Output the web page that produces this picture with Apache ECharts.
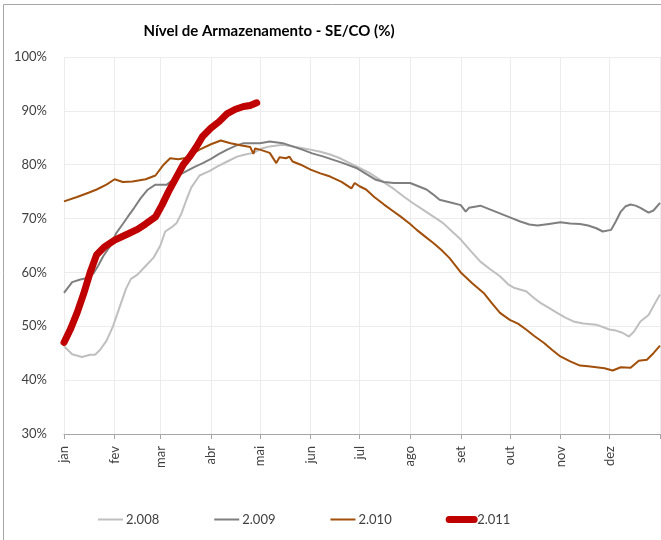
<!DOCTYPE html>
<html>
<head>
<meta charset="UTF-8">
<title>Nível de Armazenamento - SE/CO</title>
<script src="https://cdn.jsdelivr.net/npm/echarts@6/dist/echarts.min.js"></script>
<style>
  html, body { margin: 0; padding: 0; background: #fff; }
  #chart { width: 661px; height: 540px; }
</style>
</head>
<body>
<div id="chart"></div>
<script>
// meses (rótulos) e dia do ano em que cada um começa
var monthNames = ['jan', 'fev', 'mar', 'abr', 'mai', 'jun', 'jul', 'ago', 'set', 'out', 'nov', 'dez'];
var monthStarts = [0, 31, 59, 90, 120, 151, 181, 212, 243, 273, 304, 334, 365];

// nível (%) por dia do ano: [dia, valor]
var s2008 = [[0,46.3],[5,44.8],[11,44.3],[16,44.7],[19,44.7],[22,45.6],[26,47.3],[30,50],[34,53.5],[38,57],[41,58.8],[45,59.6],[50,61.2],[55,62.8],[59,65],[62,67.6],[66,68.4],[69,69.2],[72,71],[75,73.5],[78,75.8],[83,78],[89,78.8],[94,79.7],[100,80.6],[106,81.5],[111,81.9],[116,82.2],[121,83],[126,83.4],[134,83.7],[142,83.3],[151,82.8],[157,82.4],[163,81.9],[169,81.2],[175,80.3],[181,79.4],[187,78.5],[195,76.9],[202,75.5],[208,74.1],[214,72.8],[220,71.6],[226,70.4],[232,69.2],[238,67.5],[243,66.1],[249,64],[255,62],[261,60.6],[267,59.3],[272,57.8],[276,57.1],[283,56.5],[288,55.2],[292,54.3],[297,53.4],[302,52.5],[307,51.6],[312,50.9],[318,50.5],[326,50.3],[334,49.4],[338,49.2],[342,48.8],[346,48.1],[349,49],[353,50.9],[358,52.1],[362,54.3],[365,55.9]];
var s2009 = [[0,56.2],[5,58.2],[10,58.7],[15,59],[18,59.8],[21,61.3],[24,63],[28,64.8],[32,67.3],[36,69],[39,70.3],[43,72],[47,73.8],[51,75.3],[56,76.3],[63,76.3],[66,77],[70,78],[75,78.8],[80,79.6],[85,80.3],[90,81.1],[95,82],[100,82.8],[105,83.5],[110,84],[115,84],[120,84],[126,84.3],[134,84],[140,83.4],[146,82.8],[152,82.1],[159,81.5],[165,80.9],[171,80.3],[179,79.4],[185,78.3],[191,77.2],[196,76.8],[202,76.6],[212,76.6],[217,76],[222,75.4],[226,74.5],[230,73.5],[238,72.9],[243,72.5],[246,71.3],[248,72],[255,72.4],[260,71.8],[265,71.2],[270,70.6],[275,70],[279,69.5],[285,68.9],[290,68.7],[297,69],[304,69.3],[310,69.1],[316,69],[321,68.7],[326,68.2],[330,67.6],[335,67.9],[338,69.5],[341,71.3],[344,72.3],[347,72.6],[350,72.4],[353,72],[358,71.1],[361,71.5],[365,72.9]];
var s2010 = [[0,73.2],[8,74],[15,74.8],[20,75.4],[26,76.3],[31,77.3],[36,76.8],[42,76.9],[50,77.3],[56,78],[61,80],[65,81.2],[70,81],[75,81.3],[83,82.8],[90,83.8],[96,84.5],[102,84],[108,83.6],[114,83.3],[116,82],[117,83],[120,82.8],[126,82.2],[130,80.3],[132,81.4],[136,81.2],[138,81.5],[140,80.6],[145,80],[151,79.1],[157,78.4],[163,77.8],[170,76.8],[176,75.6],[178,76.6],[181,76],[185,75.4],[190,74],[196,72.6],[201,71.5],[206,70.4],[212,69],[216,67.9],[221,66.7],[226,65.5],[231,64.2],[236,62.7],[243,60],[250,58],[257,56.2],[262,54.3],[267,52.5],[273,51.2],[278,50.5],[283,49.4],[288,48.2],[294,46.9],[299,45.6],[304,44.4],[310,43.5],[316,42.7],[321,42.6],[326,42.4],[331,42.2],[336,41.8],[341,42.4],[347,42.3],[352,43.6],[357,43.8],[361,45],[365,46.4]];
var s2011 = [[0,47],[4,49.5],[8,52.5],[12,56],[16,60],[20,63.3],[25,64.8],[31,66],[38,67],[45,68],[50,69],[56,70.3],[60,72.5],[64,75],[69,77.8],[73,80],[77,81.5],[81,83.3],[85,85.3],[90,86.8],[95,88],[100,89.5],[105,90.3],[110,90.8],[114,91],[118,91.5]];

// eixo x: um item por dia (0..365)
var days = [];
for (var d = 0; d <= 365; d++) days.push(String(d));

function isMonthStart(index) {
  return monthStarts.indexOf(index) >= 0;
}

var fontFam = 'Lato, "Open Sans", sans-serif';
var myChart = echarts.init(document.getElementById('chart'));

var option = {
  animation: false,
  textStyle: { fontFamily: fontFam },
  graphic: [{
    type: 'rect',
    shape: { x: 3.5, y: 4.5, width: 700, height: 600 },
    style: { fill: 'none', stroke: '#a6a6a6', lineWidth: 1 },
    silent: true
  }],
  title: {
    text: 'Nível de Armazenamento - SE/CO (%)',
    left: 264,
    top: 19,
    textAlign: 'center',
    textStyle: { fontSize: 15, fontWeight: 'bold', color: '#000', fontFamily: fontFam }
  },
  legend: {
    left: 92,
    bottom: 9,
    itemWidth: 25,
    itemHeight: 8,
    itemGap: 54,
    itemStyle: { opacity: 0 },
    textStyle: { fontSize: 13, color: '#404040', fontFamily: fontFam, padding: [0, 0, 0, -2] },
    data: [
      { name: '2.008' },
      { name: '2.009' },
      { name: '2.010' },
      { name: '2.011', lineStyle: { width: 7, cap: 'round' } }
    ]
  },
  grid: { left: 64, right: 1, top: 57, bottom: 106 },
  xAxis: {
    type: 'category',
    data: days,
    boundaryGap: false,
    axisLine: { lineStyle: { color: '#a6a6a6', width: 1 } },
    axisTick: { interval: function (i) { return isMonthStart(i); }, length: 5, lineStyle: { color: '#a6a6a6' } },
    splitLine: { show: true, interval: function (i) { return isMonthStart(i); }, lineStyle: { color: '#ececec', width: 1 } },
    axisLabel: {
      interval: function (i) { return isMonthStart(i) && i < 365; },
      formatter: function (v, i) { return monthNames[monthStarts.indexOf(Number(v))] || ''; },
      rotate: 90,
      margin: 12,
      fontSize: 13,
      color: '#404040',
      fontFamily: fontFam
    }
  },
  yAxis: {
    type: 'value',
    min: 30,
    max: 100,
    interval: 10,
    axisLine: { show: false },
    axisTick: { show: false },
    splitLine: { lineStyle: { color: '#ececec', width: 1 } },
    axisLabel: { formatter: '{value}%', fontSize: 13, color: '#404040', margin: 17, fontFamily: fontFam }
  },
  series: [
    { name: '2.008', type: 'line', data: s2008, symbol: 'none', lineStyle: { color: '#bfbfbf', width: 2 }, itemStyle: { color: '#bfbfbf' } },
    { name: '2.009', type: 'line', data: s2009, symbol: 'none', lineStyle: { color: '#7f7f7f', width: 2 }, itemStyle: { color: '#7f7f7f' } },
    { name: '2.010', type: 'line', data: s2010, symbol: 'none', lineStyle: { color: '#a14f0a', width: 2 }, itemStyle: { color: '#a14f0a' } },
    { name: '2.011', type: 'line', data: s2011, symbol: 'none', lineStyle: { color: '#c00000', width: 7, cap: 'round', join: 'round' }, itemStyle: { color: '#c00000' } }
  ]
};

myChart.setOption(option);
</script>
</body>
</html>
